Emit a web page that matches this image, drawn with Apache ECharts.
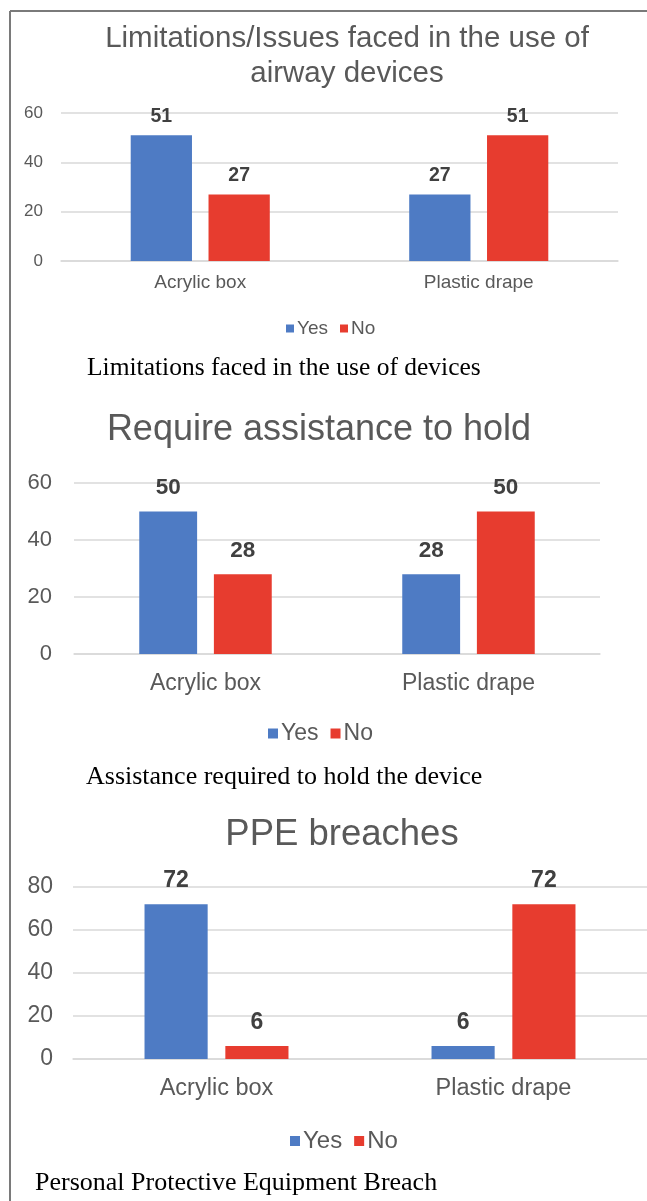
<!DOCTYPE html>
<html>
<head>
<meta charset="utf-8">
<script src="https://cdn.jsdelivr.net/npm/echarts@6/dist/echarts.min.js"></script>
<style>
html,body{margin:0;padding:0;background:#fff;}
#c{width:647px;height:1201px;}
</style>
</head>
<body>
<div id="c"></div>
<script>
const categories = ['Acrylic box', 'Plastic drape'];
const seriesNames = ['Yes', 'No'];
const limitYes = [51, 27];
const limitNo = [27, 51];
const assistYes = [50, 28];
const assistNo = [28, 50];
const ppeYes = [72, 6];
const ppeNo = [6, 72];
const chartTitles = ['Limitations/Issues faced in the use of\nairway devices', 'Require assistance to hold', 'PPE breaches'];
const captions = ['Limitations faced in the use of devices', 'Assistance required to hold the device', 'Personal Protective Equipment Breach'];
const yMax = [60, 60, 80];
const yStep = [20, 20, 20];

const BLUE = '#4e7bc4';
const RED = '#e73c2f';
const GRID = '#d9d9d9';
const TXT = '#595959';
const SANS = '"Liberation Sans", Arial, sans-serif';
const SERIF = '"Liberation Serif", "Times New Roman", serif';

const layout = [
  {left: 61, top: 113, width: 557, height: 148, tick: 17, cat: 19, catMargin: 12, lab: 19.5, labDist: 9, barW: '22%', gap: '27%', yMargin: 18,
   title: {x: 347, y: 56, size: 29.5, lh: 35}, legend: {left: 281, top: 314, size: 19, icon: 8}, cap: {x: 87, y: 368, size: 25.5}},
  {left: 74, top: 483, width: 526, height: 171, tick: 22, cat: 23, catMargin: 18, lab: 22.5, labDist: 12, barW: '22%', gap: '29%', yMargin: 22,
   title: {x: 319, y: 430, size: 36, lh: 40}, legend: {left: 263, top: 717, size: 23, icon: 10}, cap: {x: 86, y: 777, size: 26}},
  {left: 73, top: 887, width: 574, height: 172, tick: 23, cat: 23.5, catMargin: 18, lab: 23, labDist: 12, barW: '22%', gap: '28%', yMargin: 20,
   title: {x: 342, y: 835, size: 36.5, lh: 40}, legend: {left: 285, top: 1124, size: 24, icon: 10}, cap: {x: 35, y: 1183, size: 26}}
];
const dataSets = [[limitYes, limitNo], [assistYes, assistNo], [ppeYes, ppeNo]];

const grids = [], xAxes = [], yAxes = [], series = [], legends = [], graphics = [];
layout.forEach((L, i) => {
  grids.push({left: L.left, top: L.top, width: L.width, height: L.height, containLabel: false});
  xAxes.push({
    type: 'category', gridIndex: i, data: categories,
    axisLine: {show: true, lineStyle: {color: GRID, width: 1.5}},
    axisTick: {show: false},
    axisLabel: {color: TXT, fontSize: L.cat, fontFamily: SANS, margin: L.catMargin}
  });
  yAxes.push({
    type: 'value', gridIndex: i, min: 0, max: yMax[i], interval: yStep[i],
    axisLine: {show: false}, axisTick: {show: false},
    axisLabel: {color: TXT, fontSize: L.tick, fontFamily: SANS, margin: L.yMargin},
    splitLine: {lineStyle: {color: GRID, width: 1.5}}
  });
  [BLUE, RED].forEach((col, k) => {
    series.push({
      type: 'bar', name: seriesNames[k], xAxisIndex: i, yAxisIndex: i,
      data: dataSets[i][k], barWidth: L.barW, barGap: L.gap,
      itemStyle: {color: col},
      label: {show: true, position: 'top', distance: L.labDist, color: '#404040', fontWeight: 'bold', fontSize: L.lab, fontFamily: SANS},
      emphasis: {disabled: true}
    });
  });
  legends.push({
    data: seriesNames, left: L.legend.left, top: L.legend.top, icon: 'rect',
    itemWidth: L.legend.icon, itemHeight: L.legend.icon, itemGap: 12,
    textStyle: {color: TXT, fontSize: L.legend.size, fontFamily: SANS, padding: [0, 0, 0, -2]}
  });
  graphics.push({
    type: 'text', x: L.title.x, y: L.title.y,
    style: {text: chartTitles[i], fill: TXT, font: L.title.size + 'px ' + SANS, textAlign: 'center', textVerticalAlign: 'middle', lineHeight: L.title.lh}
  });
  graphics.push({
    type: 'text', x: L.cap.x, y: L.cap.y,
    style: {text: captions[i], fill: '#000', font: L.cap.size + 'px ' + SERIF, textAlign: 'left', textVerticalAlign: 'middle'}
  });
});
graphics.push({type: 'line', shape: {x1: 10, y1: 11, x2: 647, y2: 11}, style: {stroke: '#7a7a7a', lineWidth: 2}});
graphics.push({type: 'line', shape: {x1: 10, y1: 11, x2: 10, y2: 1201}, style: {stroke: '#7a7a7a', lineWidth: 2}});

const chart = echarts.init(document.getElementById('c'), null, {renderer: 'canvas'});
chart.setOption({
  animation: false,
  backgroundColor: '#ffffff',
  grid: grids, xAxis: xAxes, yAxis: yAxes, series: series, legend: legends,
  graphic: graphics
});
</script>
</body>
</html>
